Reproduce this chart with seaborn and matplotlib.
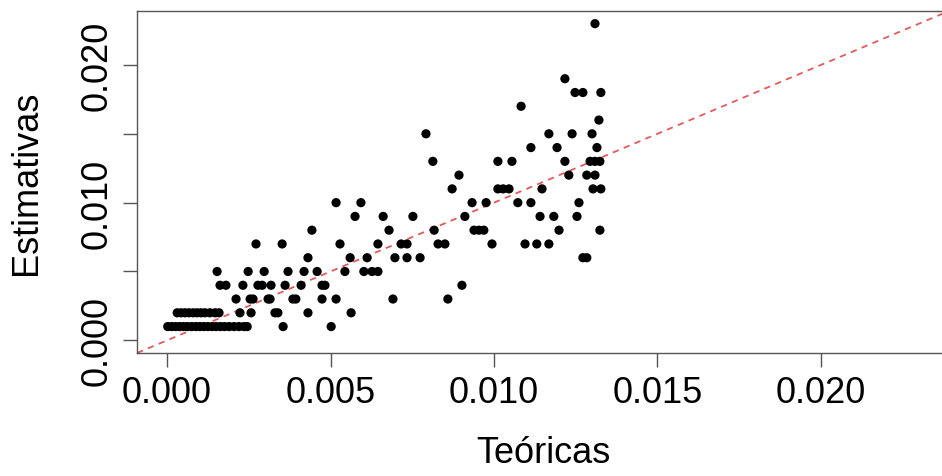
import numpy as np
import pandas as pd
import matplotlib
matplotlib.use("Agg")
import matplotlib.pyplot as plt
import seaborn as sns

# Theoretical values (x) and estimates (y), grouped by estimate level
teo_k23 = [0.01309]
teo_k19 = [0.01217]
teo_k18 = [0.01248, 0.01272, 0.01327]
teo_k17 = [0.01083]
teo_k16 = [0.01321]
teo_k15 = [0.00792, 0.01168, 0.01239, 0.01300]
teo_k14 = [0.01113, 0.01193, 0.01315]
teo_k13 = [0.00813, 0.01012, 0.01055, 0.01217, 0.01294, 0.01309, 0.01324]
teo_k12 = [0.00893, 0.01229, 0.01284, 0.01309]
teo_k11 = [0.00872, 0.01012, 0.01028, 0.01046, 0.01147, 0.01303, 0.01327]
teo_k10 = [0.00517, 0.00593, 0.00933, 0.00976, 0.01073, 0.01113, 0.01260]
teo_k9 = [0.00575, 0.00661, 0.00752, 0.00911, 0.01141, 0.01183, 0.01254]
teo_k8 = [0.00443, 0.00679, 0.00817, 0.00939, 0.00954, 0.00969, 0.01199, 0.01324]
teo_k7 = [0.00272, 0.00352, 0.00529, 0.00645, 0.00716, 0.00734, 0.00829, 0.00850,
          0.00994, 0.01095, 0.01131, 0.01168]
teo_k6 = [0.00431, 0.00560, 0.00612, 0.00697, 0.00734, 0.00774, 0.01272, 0.01284]
teo_k5 = [0.00153, 0.00248, 0.00297, 0.00370, 0.00419, 0.00459, 0.00544, 0.00602,
          0.00627, 0.00645]
teo_k4 = [0.00162, 0.00180, 0.00232, 0.00278, 0.00291, 0.00318, 0.00361, 0.00410,
          0.00474, 0.00483, 0.00902]
teo_k3 = [0.00211, 0.00254, 0.00263, 0.00309, 0.00315, 0.00385, 0.00394, 0.00474,
          0.00517, 0.00691, 0.00859]
teo_k2 = [0.00031, 0.00043, 0.00055, 0.00067, 0.00080, 0.00092, 0.00104, 0.00116,
          0.00131, 0.00147, 0.00159, 0.00223, 0.00257, 0.00330, 0.00339, 0.00431,
          0.00563]
teo_k1 = [0.00002, 0.00014, 0.00026, 0.00038, 0.00050, 0.00062, 0.00075, 0.00088,
          0.00100, 0.00112, 0.00125, 0.00138, 0.00150, 0.00163, 0.00176, 0.00190,
          0.00205, 0.00220, 0.00235, 0.00245, 0.00355, 0.00502]

groups = {
    0.023: teo_k23, 0.019: teo_k19, 0.018: teo_k18, 0.017: teo_k17, 0.016: teo_k16,
    0.015: teo_k15, 0.014: teo_k14, 0.013: teo_k13, 0.012: teo_k12, 0.011: teo_k11,
    0.010: teo_k10, 0.009: teo_k9, 0.008: teo_k8, 0.007: teo_k7, 0.006: teo_k6,
    0.005: teo_k5, 0.004: teo_k4, 0.003: teo_k3, 0.002: teo_k2, 0.001: teo_k1,
}
rows = [(x, est) for est, xs in groups.items() for x in xs]
df = pd.DataFrame(rows, columns=["teoricas", "estimativas"])

x_ticks = [0.000, 0.005, 0.010, 0.015, 0.020]
y_ticks = [0.000, 0.005, 0.010, 0.015, 0.020]
y_labels = ["0.000", "", "0.010", "", "0.020"]

sns.set_style("white")
plt.rcParams["font.family"] = ["Liberation Sans", "DejaVu Sans"]
plt.rcParams["text.color"] = "black"
plt.rcParams["axes.labelcolor"] = "black"
plt.rcParams["xtick.color"] = "black"
plt.rcParams["ytick.color"] = "black"

fig = plt.figure(figsize=(9.42, 4.77), dpi=100)
ax = fig.add_axes([137 / 942, 1 - 354 / 477, (949 - 137) / 942, (354 - 12) / 477])

sns.scatterplot(data=df, x="teoricas", y="estimativas", ax=ax,
                color="black", s=44, edgecolor="none", linewidth=0, zorder=3)
ax.axline((0, 0), slope=1, color="#E3595C", lw=1.3, ls=(0, (3.5, 3)), zorder=2)

ax.set_xlim(-0.00092, 0.02392)
ax.set_ylim(-0.00092, 0.02392)
ax.set_xticks(x_ticks)
ax.set_xticklabels([f"{v:.3f}" for v in x_ticks])
ax.set_yticks(y_ticks)
ax.set_yticklabels(y_labels, rotation=90, va="center")

ax.tick_params(axis="both", direction="out", length=10, width=1, color="#555555",
               labelsize=26, labelcolor="black", pad=6, left=True, bottom=True)
for side in ["left", "top", "bottom", "right"]:
    ax.spines[side].set_color("#555555")
    ax.spines[side].set_linewidth(1)

ax.set_xlabel("Teóricas", fontsize=26, labelpad=18, color="black")
ax.set_ylabel("Estimativas", fontsize=26, labelpad=26, color="black")

fig.savefig("out.png", dpi=100)
